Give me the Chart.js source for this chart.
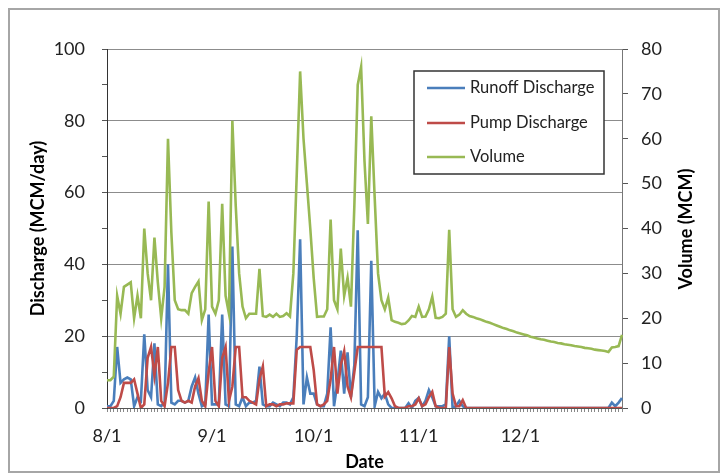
<!DOCTYPE html>
<html>
<head>
<meta charset="utf-8">
<script src="https://cdn.jsdelivr.net/npm/chart.js@4.4.1/dist/chart.umd.min.js"></script>
<style>
  body { margin: 0; background: #fff; }
  #frame { position: absolute; left: 8px; top: 8px; width: 712px; height: 465px; box-sizing: border-box; border: 2px solid #a6a6a6; }
  #chart { position: absolute; left: 0; top: 0; }
</style>
</head>
<body>
<div id="frame"></div>
<canvas id="chart" width="726" height="475"></canvas>
<script>
// daily values 8/1 .. 12/31
const monthDays = [[8, 31], [9, 30], [10, 31], [11, 30], [12, 31]];
const dates = [];
monthDays.forEach(([m, n]) => { for (let d = 1; d <= n; d++) dates.push(m + '/' + d); });

const runoff = [
  0.5, 0.5, 2, 17, 7, 8, 8.5, 8, 0.5, 3,
  2, 20.5, 5, 3, 18, 1, 0.5, 1.5, 40, 1.5,
  1, 2, 2, 1.5, 2, 6, 8.5, 4, 0.5, 1,
  26, 1, 1, 1, 26, 1, 0.5, 45, 1, 0.5,
  3, 0.5, 1.5, 1.5, 2, 11.5, 1, 0.5, 0.5, 1.5,
  1, 0.5, 1.5, 1.5, 1, 3, 20, 47, 1, 8.5,
  4, 4, 1, 0.5, 0.5, 4, 22.5, 0.5, 7, 16,
  4, 15.5, 3, 12, 49.5, 1, 0.5, 3, 41, 0.5,
  4.5, 2.7, 4, 1, 0, 0, 0, 0, 0, 1.3,
  0, 2, 2.8, 0.5, 2, 5, 3, 0.5, 0.5, 0.5,
  1, 20, 0, 0.5, 2, 0.5, 0, 0, 0, 0,
  0, 0, 0, 0, 0, 0, 0, 0, 0, 0,
  0, 0, 0, 0, 0, 0, 0, 0, 0, 0,
  0, 0, 0, 0, 0, 0, 0, 0, 0, 0,
  0, 0, 0, 0, 0, 0, 0, 0, 0, 1.5,
  0.5, 1.5, 2.8
];

const pump = [
  0, 0, 0, 0.5, 3, 7, 7, 7, 8, 4,
  0, 1, 14, 17, 9, 17, 2, 0.5, 7, 17,
  17, 5, 2, 1.5, 2, 1.5, 6, 8.3, 2, 0.5,
  10, 17, 2, 0.5, 14, 17, 2, 6, 17, 17,
  3, 3, 2, 1.5, 1, 8, 11.6, 0.5, 1, 1,
  0.5, 1, 1, 1.3, 1.3, 1.3, 16.2, 17, 17, 17,
  17, 10.6, 1, 0.5, 1, 2, 8, 17, 4, 12,
  15.8, 6, 3, 10, 17, 17, 17, 17, 17, 17,
  17, 17, 3.2, 4.4, 2.7, 0.5, 0, 0, 0, 0.5,
  0.5, 1, 2.7, 0.5, 1, 3, 4.5, 0.5, 0, 0,
  0, 17, 4, 0.5, 0.5, 2.2, 0, 0, 0, 0,
  0, 0, 0, 0, 0, 0, 0, 0, 0, 0,
  0, 0, 0, 0, 0, 0, 0, 0, 0, 0,
  0, 0, 0, 0, 0, 0, 0, 0, 0, 0,
  0, 0, 0, 0, 0, 0, 0, 0, 0, 0,
  0, 0, 0
];

const volume = [
  6.2, 6.2, 7, 25, 21, 27, 27.5, 28, 20, 25,
  20, 40, 30, 24, 38, 28, 20, 27, 60, 39,
  24, 22, 21.8, 21.8, 21, 25.6, 27, 28.2, 19.6, 22,
  46, 22.6, 21, 24, 45.5, 25, 21, 64, 45, 30,
  22.6, 20, 21, 21, 21, 31, 20.5, 20.3, 20.8, 20.3,
  21, 20.3, 20.5, 21.1, 20.4, 30, 52, 75, 60, 50,
  40, 29, 20.3, 20.4, 20.4, 22, 42, 24, 22, 35.5,
  25, 29, 22.6, 45, 72, 76, 55, 41, 65, 47,
  30, 24, 22, 24.6, 19.6, 19.2, 19, 18.7, 18.8, 19.5,
  20.5, 20.3, 22.6, 20.3, 20.4, 22, 24.8, 20.1, 20, 20.3,
  21, 39.7, 22, 20.3, 20.8, 21.8, 21, 20.5, 20.3, 20.0,
  19.8, 19.5, 19.2, 19.0, 18.7, 18.4, 18.1, 17.8, 17.6, 17.3,
  17.1, 16.8, 16.6, 16.4, 16.2, 15.9, 15.7, 15.5, 15.3, 15.2,
  15.0, 14.8, 14.7, 14.5, 14.4, 14.2, 14.1, 14.0, 13.8, 13.7,
  13.6, 13.4, 13.3, 13.2, 13.0, 12.9, 12.8, 12.7, 12.5, 13.5,
  13.6, 13.8, 16.3
];

const seriesNames = ['Runoff Discharge', 'Pump Discharge', 'Volume'];
const seriesColors = ['#4a7ebb', '#be4b48', '#98b954'];

const FONT = 'Lato, "Noto Sans", sans-serif';

// legend box drawn inside the plot, plus right axis title
const extras = {
  id: 'extras',
  afterDraw(chart) {
    const ctx = chart.ctx;
    ctx.save();
    ctx.fillStyle = '#fff';
    ctx.fillRect(414, 71, 190, 103);
    ctx.strokeStyle = '#333';
    ctx.lineWidth = 1.5;
    ctx.strokeRect(414, 71, 190, 103);
    ctx.font = '16.5px ' + FONT;
    ctx.textBaseline = 'middle';
    [88, 123, 157].forEach((y, i) => {
      ctx.strokeStyle = seriesColors[i];
      ctx.lineWidth = 2.5;
      ctx.beginPath();
      ctx.moveTo(427, y);
      ctx.lineTo(465, y);
      ctx.stroke();
      ctx.fillStyle = '#222';
      ctx.fillText(seriesNames[i], 470, y);
    });
    ctx.translate(686, 229);
    ctx.rotate(-Math.PI / 2);
    ctx.font = 'bold 18px ' + FONT;
    ctx.textAlign = 'center';
    ctx.fillStyle = '#000';
    ctx.fillText('Volume (MCM)', 0, 0);
    ctx.restore();
  }
};

new Chart(document.getElementById('chart'), {
  type: 'line',
  data: {
    labels: dates,
    datasets: [
      { label: seriesNames[0], data: runoff, borderColor: seriesColors[0], yAxisID: 'y', order: 3 },
      { label: seriesNames[1], data: pump, borderColor: seriesColors[1], yAxisID: 'y', order: 2 },
      { label: seriesNames[2], data: volume, borderColor: seriesColors[2], yAxisID: 'y2', order: 1 }
    ]
  },
  options: {
    responsive: false,
    animation: false,
    layout: { padding: { top: 49, left: 0, right: 0, bottom: 0 } },
    elements: {
      line: { borderWidth: 2.6, tension: 0 },
      point: { radius: 0 }
    },
    plugins: { legend: { display: false }, tooltip: { enabled: false } },
    scales: {
      x: {
        offset: false,
        grid: { drawOnChartArea: false, tickLength: 4, tickColor: '#888' },
        border: { color: '#555' },
        ticks: {
          autoSkip: false, maxRotation: 0, minRotation: 0, padding: 13,
          color: '#222', font: { size: 18, family: FONT },
          callback: (v, i) => dates[i].endsWith('/1') ? dates[i] : ''
        },
        title: { display: true, text: 'Date', color: '#000', font: { size: 18, weight: 'bold', family: FONT }, padding: { top: 0, bottom: 2 } },
        afterFit: s => { s.height = 67; }
      },
      y: {
        position: 'left', min: 0, max: 100,
        grid: {
          color: c => c.tick.value % 20 === 0 ? '#8c8c8c' : 'rgba(0,0,0,0)',
          tickColor: '#555', tickLength: 5
        },
        border: { color: '#333' },
        ticks: {
          stepSize: 10, padding: 17, color: '#222', font: { size: 18, family: FONT },
          callback: v => v % 20 === 0 ? v : ''
        },
        title: { display: true, text: 'Discharge (MCM/day)', color: '#000', font: { size: 18, weight: 'bold', family: FONT }, padding: { top: 27, bottom: 0 } },
        afterFit: s => { s.width = 107; }
      },
      y2: {
        position: 'right', min: 0, max: 80,
        grid: { drawOnChartArea: false, tickColor: '#555', tickLength: 6 },
        border: { color: '#777' },
        ticks: { stepSize: 10, padding: 13, color: '#222', font: { size: 18, family: FONT } },
        afterFit: s => { s.width = 104; }
      }
    }
  },
  plugins: [extras]
});
</script>
</body>
</html>
